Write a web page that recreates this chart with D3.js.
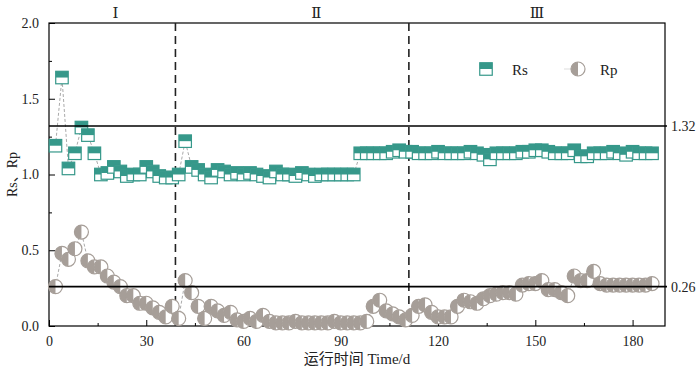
<!DOCTYPE html>
<html><head><meta charset="utf-8">
<script src="https://cdn.jsdelivr.net/npm/d3@7"></script>
<style>
body{margin:0;background:#fff;}
</style></head>
<body><svg id="c" width="700" height="369" font-family="Liberation Serif, Times New Roman, serif"></svg>
<script>
const days = d3.range(2, 187, 2);
const rsValues = [1.19,1.64,1.04,1.14,1.31,1.26,1.14,1.00,1.01,1.05,1.02,0.99,1.00,1.00,1.05,1.02,0.99,0.98,0.98,1.00,
1.22,1.05,1.03,1.00,0.98,1.03,1.02,1.00,1.01,1.00,1.01,1.00,0.99,0.98,1.02,1.00,1.00,0.99,1.01,1.00,
0.99,1.00,1.00,1.00,1.00,1.00,1.00,1.14,1.14,1.14,1.14,1.14,1.15,1.16,1.15,1.15,1.14,1.14,1.14,1.15,
1.14,1.14,1.14,1.14,1.15,1.14,1.13,1.10,1.14,1.14,1.14,1.14,1.15,1.15,1.16,1.16,1.15,1.14,1.14,1.14,
1.16,1.12,1.12,1.14,1.14,1.14,1.15,1.14,1.13,1.15,1.14,1.14,1.14];
const rpValues = [0.26,0.48,0.44,0.51,0.62,0.43,0.39,0.39,0.33,0.29,0.26,0.20,0.20,0.15,0.15,0.12,0.09,0.06,0.13,0.05,
0.30,0.22,0.13,0.05,0.13,0.10,0.07,0.09,0.04,0.03,0.05,0.03,0.07,0.03,0.02,0.02,0.02,0.03,0.02,0.02,
0.02,0.02,0.02,0.03,0.02,0.02,0.02,0.02,0.03,0.13,0.17,0.10,0.08,0.06,0.04,0.07,0.13,0.14,0.09,0.06,
0.06,0.06,0.13,0.17,0.16,0.15,0.18,0.20,0.21,0.22,0.22,0.21,0.27,0.28,0.28,0.30,0.24,0.24,0.22,0.20,
0.33,0.30,0.30,0.36,0.28,0.27,0.27,0.27,0.27,0.27,0.27,0.27,0.28];
const xTicks = [0,30,60,90,120,150,180];
const yTicks = [0,0.5,1.0,1.5,2.0];
const refLines = [1.32, 0.26];
const phaseBounds = [39, 111];
const phaseLabels = ["Ⅰ","Ⅱ","Ⅲ"];
const phaseCenters = [20.5, 82.5, 150.5];

const FONT = "Liberation Serif, Times New Roman, serif";
const rsColor = "#36988a", rpColor = "#a69e98";
const m = {l:49, r:35, t:23, b:43};
const W = 700, H = 369;
const svg = d3.select("#c");
const x = d3.scaleLinear().domain([0,190]).range([m.l, W-m.r]);
const y = d3.scaleLinear().domain([0,2]).range([H-m.b, m.t]);

const rs = days.map((d,i)=>({d, v:rsValues[i]}));
const rp = days.map((d,i)=>({d, v:rpValues[i]}));

svg.append("rect").attr("x",x(0)).attr("y",y(2)).attr("width",x(190)-x(0)).attr("height",y(0)-y(2))
  .attr("fill","none").attr("stroke","#000").attr("stroke-width",1.2);

const xAxis = d3.axisBottom(x).tickValues(xTicks).tickSize(-6).tickSizeOuter(0).tickPadding(10).tickFormat(d3.format("d"));
const gx = svg.append("g").attr("transform",`translate(0,${y(0)})`).call(xAxis);
gx.select(".domain").remove();
svg.append("g").attr("transform",`translate(0,${y(0)})`)
  .call(d3.axisBottom(x).tickValues([15,45,75,105,135,165]).tickSize(-3).tickFormat("")).select(".domain").remove();
const yAxis = d3.axisLeft(y).tickValues(yTicks).tickSize(-6).tickSizeOuter(0).tickPadding(10).tickFormat(d3.format(".1f"));
const gy = svg.append("g").attr("transform",`translate(${x(0)},0)`).call(yAxis);
gy.select(".domain").remove();
svg.append("g").attr("transform",`translate(${x(0)},0)`)
  .call(d3.axisLeft(y).tickValues([0.25,0.75,1.25,1.75]).tickSize(-3).tickFormat("")).select(".domain").remove();
svg.selectAll("g").attr("font-family",FONT);
svg.selectAll(".tick text").attr("font-size",14).attr("fill","#222").attr("font-family",FONT);
svg.selectAll(".tick line").attr("stroke","#000");

svg.selectAll(".phase").data(phaseBounds).join("line")
  .attr("x1",d=>x(d)).attr("x2",d=>x(d)).attr("y1",y(2)).attr("y2",y(0))
  .attr("stroke","#222").attr("stroke-width",1.6).attr("stroke-dasharray","8,5");
svg.selectAll(".plab").data(phaseLabels).join("text")
  .attr("x",(d,i)=>x(phaseCenters[i])).attr("y",18).attr("text-anchor","middle")
  .attr("font-size",15).attr("fill","#222").attr("font-family","DejaVu Serif, Liberation Serif, serif").text(d=>d);

const line = d3.line().x(d=>x(d.d)).y(d=>y(d.v));
svg.append("path").datum(rs).attr("d",line).attr("fill","none").attr("stroke","#aaa").attr("stroke-width",1).attr("stroke-dasharray","3,2");
svg.append("path").datum(rp).attr("d",line).attr("fill","none").attr("stroke","#aaa").attr("stroke-width",1).attr("stroke-dasharray","3,2");

const S = 12.5, R = 7;
function rsMarker(g){
  g.append("rect").attr("x",-S/2).attr("y",-S/2).attr("width",S).attr("height",S).attr("fill","#fff").attr("stroke",rsColor).attr("stroke-width",1.2);
  g.append("rect").attr("x",-S/2).attr("y",-S/2).attr("width",S).attr("height",S/2).attr("fill",rsColor);
}
function rpMarker(g){
  g.append("circle").attr("r",R).attr("fill","#fff").attr("stroke",rpColor).attr("stroke-width",1.2);
  g.append("path").attr("d",`M0,${-R}A${R},${R} 0 0 0 0,${R}Z`).attr("fill",rpColor);
}
svg.append("g").selectAll("g").data(rs).join("g").attr("transform",d=>`translate(${x(d.d)},${y(d.v)})`).each(function(){rsMarker(d3.select(this));});
svg.append("g").selectAll("g").data(rp).join("g").attr("transform",d=>`translate(${x(d.d)},${y(d.v)})`).each(function(){rpMarker(d3.select(this));});

svg.selectAll(".ref").data(refLines).join("line")
  .attr("x1",x(0)).attr("x2",x(190)+2).attr("y1",d=>y(d)).attr("y2",d=>y(d)).attr("stroke","#000").attr("stroke-width",1.6);
svg.selectAll(".reflab").data(refLines).join("text")
  .attr("x",x(190)+6).attr("y",d=>y(d)+5).attr("font-size",14).attr("fill","#222").attr("font-family",FONT).text(d=>d.toFixed(2));

const lg1 = svg.append("g").attr("transform","translate(486,69)");
rsMarker(lg1);
svg.append("text").attr("x",512).attr("y",75).attr("font-size",15).attr("fill","#222").attr("font-family",FONT).text("Rs");
const lg2 = svg.append("g").attr("transform","translate(578,69)");
lg2.append("line").attr("x1",-14).attr("x2",-R).attr("stroke","#ddd").attr("stroke-width",1);
rpMarker(lg2);
svg.append("text").attr("x",600).attr("y",75).attr("font-size",15).attr("fill","#222").attr("font-family",FONT).text("Rp");

svg.append("text").attr("transform",`translate(17,${(y(0)+y(2))/2}) rotate(-90)`).attr("text-anchor","middle")
  .attr("font-size",14).attr("fill","#222").attr("font-family",FONT+", Noto Sans CJK SC").text("Rs、Rp");
svg.append("text").attr("x",357).attr("y",364).attr("text-anchor","middle").attr("font-size",15).attr("fill","#222")
  .attr("font-family",FONT+", Noto Sans CJK SC").text("运行时间 Time/d");
</script></body></html>
